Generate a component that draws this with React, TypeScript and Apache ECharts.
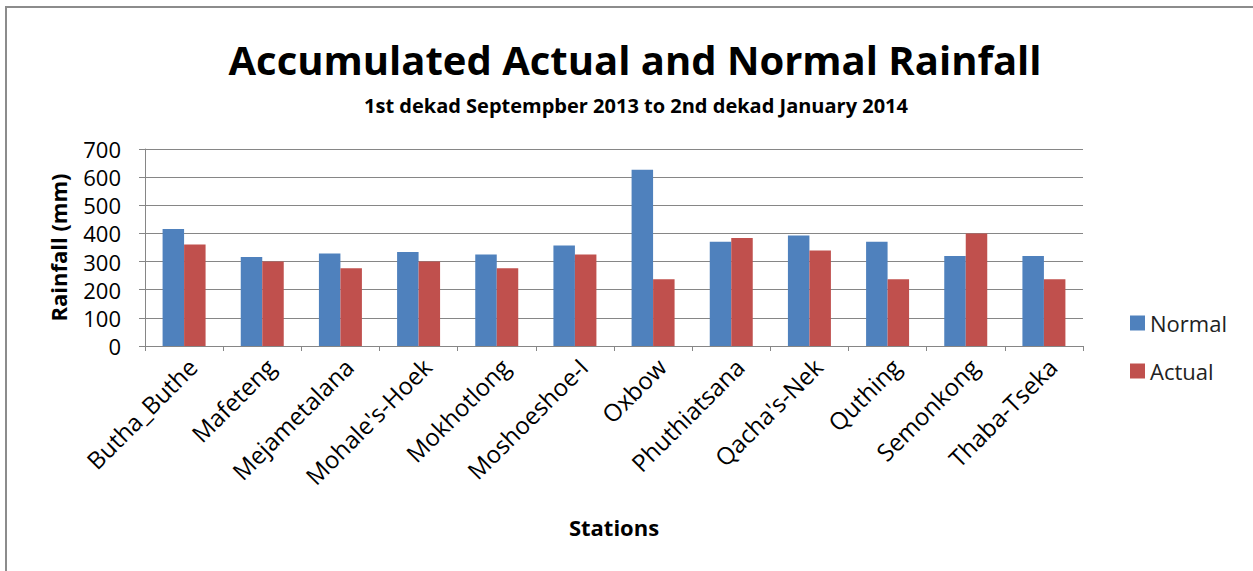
import React, { useEffect, useRef } from "react";
import * as echarts from "echarts";

const stations = [
  "Butha_Buthe", "Mafeteng", "Mejametalana", "Mohale's-Hoek", "Mokhotlong",
  "Moshoeshoe-I", "Oxbow", "Phuthiatsana", "Qacha's-Nek", "Quthing", "Semonkong", "Thaba-Tseka",
];
const normal = [416, 316, 329, 334, 325, 357, 626, 370, 393, 370, 320, 320];
const actual = [361, 300, 276, 300, 276, 325, 237, 384, 339, 237, 400, 237];
const yTicks = { min: 0, max: 700, interval: 100 };

const FONT = "'Open Sans', 'Noto Sans', sans-serif";

export default function App() {
  const ref = useRef<HTMLDivElement>(null);
  useEffect(() => {
    document.body.style.margin = "0";
    const chart = echarts.init(ref.current!, null, { renderer: "svg" });
    chart.setOption({
      animation: false,
      backgroundColor: "#fff",
      textStyle: { fontFamily: FONT },
      title: [
        {
          text: "Accumulated Actual and Normal Rainfall",
          left: 630, top: 34, textAlign: "center",
          textStyle: { fontSize: 40, fontWeight: "bold", color: "#000", fontFamily: FONT },
        },
        {
          text: "1st dekad Septempber 2013 to 2nd dekad January 2014",
          left: 631, top: 90, textAlign: "center",
          textStyle: { fontSize: 20, fontWeight: "bold", color: "#000", fontFamily: FONT },
        },
      ],
      graphic: [
        {
          type: "polyline",
          shape: { points: [[6, 571], [6, 7], [1253, 7]] },
          style: { stroke: "#8c8c8c", lineWidth: 2, fill: "none" },
        },
      ],
      legend: {
        orient: "vertical",
        left: 1125, top: 307,
        itemWidth: 15, itemHeight: 15, itemGap: 26,
        icon: "rect",
        data: ["Normal", "Actual"],
        textStyle: { fontSize: 22, color: "#222", fontFamily: FONT },
      },
      grid: { left: 145, right: 170, top: 149, bottom: 225, containLabel: false },
      xAxis: {
        type: "category",
        data: stations,
        name: "Stations",
        nameLocation: "middle",
        nameGap: 170,
        nameTextStyle: { fontSize: 22, fontWeight: "bold", color: "#000", fontFamily: FONT },
        axisLine: { lineStyle: { color: "#868686", width: 1 } },
        axisTick: { show: true, alignWithLabel: false, length: 5, lineStyle: { color: "#868686" } },
        axisLabel: {
          rotate: 45, fontSize: 24, color: "#000", margin: 8, interval: 0, fontFamily: FONT,
          verticalAlign: "top",
        },
      },
      yAxis: {
        type: "value",
        min: yTicks.min, max: yTicks.max, interval: yTicks.interval,
        name: "Rainfall (mm)",
        nameLocation: "middle",
        nameGap: 76,
        nameTextStyle: { fontSize: 22, fontWeight: "bold", color: "#000", fontFamily: FONT },
        axisLine: { show: true, lineStyle: { color: "#868686" } },
        axisTick: { show: true, length: 6, lineStyle: { color: "#868686" } },
        axisLabel: { fontSize: 22, color: "#000", margin: 24, fontFamily: FONT },
        splitLine: { lineStyle: { color: "#868686", width: 1 } },
      },
      series: [
        {
          name: "Normal", type: "bar", data: normal,
          itemStyle: { color: "#4f81bd" },
          barGap: "0%", barCategoryGap: "45%",
        },
        {
          name: "Actual", type: "bar", data: actual,
          itemStyle: { color: "#c0504d" },
          barGap: "0%", barCategoryGap: "45%",
        },
      ],
    });
    return () => chart.dispose();
  }, []);
  return <div ref={ref} style={{ position: "absolute", left: 0, top: 0, width: 1253, height: 571 }} />;
}
